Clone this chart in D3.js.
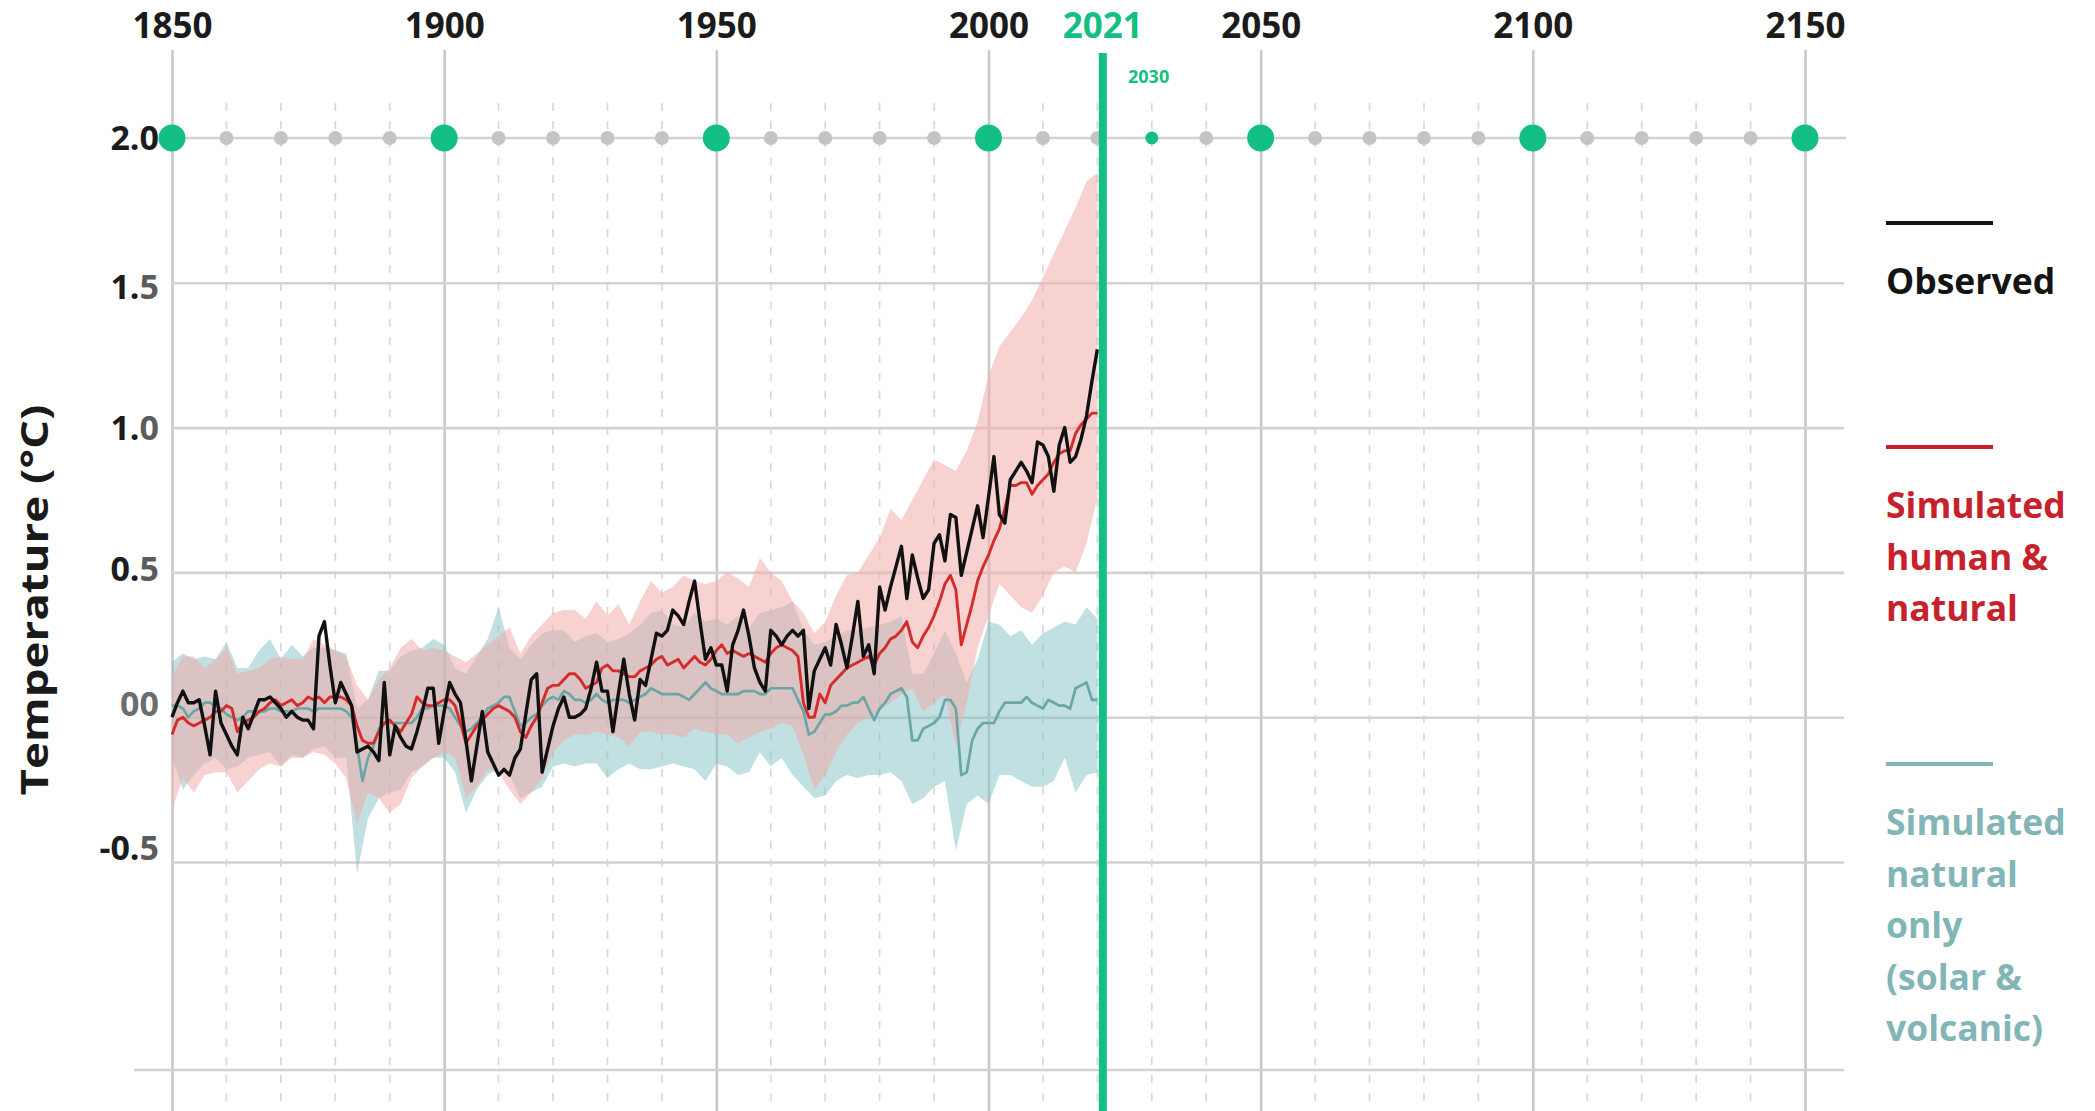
<!DOCTYPE html>
<html>
<head>
<meta charset="utf-8">
<script src="https://cdn.jsdelivr.net/npm/d3@7"></script>
<style>
  html, body { margin: 0; padding: 0; background: #ffffff; }
  svg { display: block; }
  text { font-family: "Open Sans", "Noto Sans", sans-serif; font-weight: 700; }
</style>
</head>
<body>
<script>
// Global surface temperature change relative to 1850–1900 (°C), annual values from 1850
const FIRST_YEAR = 1850;

const observed = [
  0.00, 0.05, 0.09, 0.05, 0.05, 0.06, -0.03, -0.13, 0.09, -0.02,
  -0.06, -0.10, -0.13, 0.00, -0.04, 0.01, 0.06, 0.06, 0.07, 0.05,
  0.03, 0.00, 0.02, 0.00, -0.01, -0.01, -0.04, 0.28, 0.33, 0.18,
  0.05, 0.12, 0.08, 0.04, -0.12, -0.11, -0.10, -0.12, -0.15, 0.12,
  -0.13, -0.03, -0.07, -0.10, -0.11, -0.05, 0.02, 0.10, 0.10, -0.09,
  0.02, 0.12, 0.08, 0.05, -0.08, -0.22, -0.10, 0.02, -0.12, -0.16,
  -0.20, -0.18, -0.20, -0.14, -0.11, 0.01, 0.13, 0.15, -0.19, -0.11,
  -0.03, 0.03, 0.07, 0.00, 0.00, 0.01, 0.03, 0.10, 0.19, 0.09,
  0.09, -0.05, 0.08, 0.20, 0.08, -0.01, 0.13, 0.11, 0.20, 0.29,
  0.28, 0.30, 0.37, 0.35, 0.32, 0.40, 0.47, 0.33, 0.20, 0.24,
  0.18, 0.18, 0.09, 0.25, 0.30, 0.37, 0.28, 0.17, 0.12, 0.09,
  0.30, 0.28, 0.25, 0.28, 0.30, 0.28, 0.30, 0.03, 0.16, 0.20,
  0.24, 0.18, 0.32, 0.25, 0.17, 0.28, 0.40, 0.21, 0.25, 0.15,
  0.45, 0.37, 0.45, 0.52, 0.59, 0.41, 0.56, 0.48, 0.41, 0.44,
  0.60, 0.63, 0.54, 0.70, 0.69, 0.49, 0.57, 0.65, 0.73, 0.62,
  0.76, 0.90, 0.70, 0.67, 0.82, 0.85, 0.88, 0.85, 0.81, 0.95,
  0.94, 0.90, 0.78, 0.94, 1.00, 0.88, 0.90, 0.96, 1.04, 1.16,
  1.27
];

const simHumanNatural = [
  -0.06, -0.01, 0.00, -0.02, -0.03, -0.02, -0.01, 0.00, 0.02, 0.02,
  0.04, 0.03, -0.05, -0.02, -0.01, 0.00, 0.02, 0.03, 0.05, 0.06,
  0.04, 0.05, 0.06, 0.04, 0.05, 0.07, 0.06, 0.07, 0.05, 0.07,
  0.07, 0.07, 0.06, 0.04, -0.03, -0.08, -0.09, -0.09, -0.05, -0.02,
  -0.01, -0.03, -0.05, -0.02, 0.01, 0.07, 0.05, 0.04, 0.04, 0.05,
  0.06, 0.06, 0.04, -0.02, -0.09, -0.06, -0.03, -0.01, 0.01, 0.03,
  0.04, 0.03, 0.02, 0.00, -0.05, -0.07, -0.03, 0.00, 0.05, 0.10,
  0.11, 0.11, 0.13, 0.15, 0.15, 0.13, 0.10, 0.11, 0.12, 0.17,
  0.18, 0.16, 0.16, 0.15, 0.14, 0.14, 0.16, 0.17, 0.18, 0.20,
  0.21, 0.18, 0.19, 0.20, 0.17, 0.19, 0.21, 0.19, 0.18, 0.20,
  0.23, 0.25, 0.22, 0.23, 0.22, 0.21, 0.22, 0.21, 0.20, 0.19,
  0.22, 0.24, 0.25, 0.24, 0.23, 0.21, 0.05, 0.00, 0.00, 0.08,
  0.05, 0.11, 0.13, 0.15, 0.17, 0.18, 0.19, 0.20, 0.21, 0.18,
  0.22, 0.24, 0.27, 0.28, 0.30, 0.33, 0.26, 0.24, 0.28, 0.31,
  0.35, 0.40, 0.46, 0.49, 0.44, 0.25, 0.32, 0.39, 0.47, 0.52,
  0.56, 0.61, 0.65, 0.72, 0.80, 0.80, 0.81, 0.81, 0.77, 0.80,
  0.82, 0.84, 0.88, 0.91, 0.92, 0.92, 0.98, 1.01, 1.03, 1.05,
  1.05
];

const simNaturalOnly = [
  0.04, 0.04, 0.03, 0.00, 0.02, 0.03, 0.05, 0.05, 0.04, 0.03,
  0.01, 0.00, -0.01, 0.00, 0.02, 0.02, 0.02, 0.02, 0.03, 0.03,
  0.02, 0.02, 0.02, 0.03, 0.03, 0.03, 0.02, 0.03, 0.03, 0.03,
  0.03, 0.03, 0.02, 0.00, -0.10, -0.22, -0.14, -0.10, -0.04, -0.02,
  -0.02, -0.02, -0.02, -0.02, -0.02, 0.00, 0.03, 0.03, 0.04, 0.04,
  0.04, 0.03, 0.00, -0.03, -0.05, -0.04, -0.02, 0.00, 0.03, 0.04,
  0.05, 0.07, 0.07, 0.02, -0.03, -0.02, 0.00, 0.01, 0.04, 0.06,
  0.07, 0.06, 0.09, 0.08, 0.06, 0.06, 0.05, 0.06, 0.08, 0.06,
  0.05, 0.06, 0.06, 0.06, 0.05, 0.06, 0.07, 0.08, 0.10, 0.09,
  0.08, 0.08, 0.08, 0.08, 0.07, 0.06, 0.08, 0.10, 0.12, 0.10,
  0.09, 0.08, 0.08, 0.08, 0.08, 0.09, 0.09, 0.09, 0.08, 0.08,
  0.10, 0.10, 0.10, 0.10, 0.10, 0.06, 0.02, -0.06, -0.05, -0.02,
  0.01, 0.01, 0.02, 0.04, 0.04, 0.05, 0.05, 0.07, 0.03, -0.01,
  0.03, 0.05, 0.08, 0.09, 0.10, 0.07, -0.08, -0.08, -0.04, -0.03,
  -0.02, 0.00, 0.06, 0.06, 0.03, -0.20, -0.19, -0.08, -0.04, -0.02,
  -0.02, -0.02, 0.02, 0.05, 0.05, 0.05, 0.05, 0.07, 0.05, 0.04,
  0.03, 0.06, 0.05, 0.04, 0.04, 0.03, 0.10, 0.11, 0.12, 0.06,
  0.06
];

// Model ranges, every second year from 1850
const BAND_STEP = 2;

const humanNaturalHigh = [
  0.14, 0.21, 0.21, 0.17, 0.20, 0.24, 0.15, 0.16, 0.17, 0.20,
  0.21, 0.20, 0.20, 0.27, 0.25, 0.23, 0.21, 0.11, 0.06, 0.13,
  0.17, 0.24, 0.27, 0.23, 0.24, 0.23, 0.21, 0.19, 0.22, 0.25,
  0.28, 0.31, 0.22, 0.28, 0.32, 0.36, 0.37, 0.37, 0.34, 0.40,
  0.35, 0.39, 0.32, 0.40, 0.47, 0.43, 0.45, 0.49, 0.47, 0.46,
  0.47, 0.50, 0.48, 0.45, 0.55, 0.50, 0.47, 0.40, 0.36, 0.29,
  0.33, 0.42, 0.49, 0.50, 0.56, 0.62, 0.72, 0.68, 0.75, 0.82,
  0.89, 0.87, 0.85, 0.92, 1.02, 1.18, 1.28, 1.33, 1.38, 1.44,
  1.52, 1.60, 1.68, 1.76, 1.85, 1.88
];

const humanNaturalLow = [
  -0.32, -0.21, -0.26, -0.20, -0.19, -0.19, -0.26, -0.22, -0.18, -0.16,
  -0.17, -0.14, -0.14, -0.12, -0.13, -0.16, -0.21, -0.37, -0.26, -0.28,
  -0.33, -0.30, -0.21, -0.17, -0.14, -0.12, -0.14, -0.28, -0.24, -0.18,
  -0.19, -0.25, -0.30, -0.26, -0.21, -0.12, -0.08, -0.06, -0.06, -0.05,
  -0.06, -0.07, -0.10, -0.05, -0.05, -0.06, -0.06, -0.07, -0.04, -0.05,
  -0.06, -0.06, -0.09, -0.07, -0.05, -0.04, -0.02, -0.03, -0.13, -0.25,
  -0.20, -0.12, -0.06, -0.02, 0.00, 0.02, 0.05, 0.08, 0.10, 0.02,
  0.05, 0.08, -0.10, 0.05, 0.24, 0.35, 0.46, 0.42, 0.38, 0.36,
  0.42, 0.50, 0.52, 0.50, 0.60, 0.76
];

const naturalOnlyHigh = [
  0.19, 0.22, 0.20, 0.21, 0.20, 0.26, 0.17, 0.17, 0.23, 0.27,
  0.20, 0.25, 0.21, 0.24, 0.24, 0.23, 0.22, 0.03, 0.06, 0.16,
  0.16, 0.21, 0.23, 0.24, 0.27, 0.25, 0.17, 0.15, 0.21, 0.27,
  0.38, 0.24, 0.20, 0.25, 0.29, 0.30, 0.30, 0.26, 0.28, 0.29,
  0.26, 0.27, 0.29, 0.32, 0.36, 0.37, 0.32, 0.31, 0.36, 0.33,
  0.34, 0.32, 0.35, 0.31, 0.36, 0.37, 0.38, 0.40, 0.30, 0.25,
  0.26, 0.28, 0.30, 0.30, 0.31, 0.32, 0.33, 0.35, 0.15, 0.15,
  0.22, 0.30, 0.22, 0.12, 0.20, 0.33, 0.32, 0.28, 0.30, 0.25,
  0.29, 0.31, 0.33, 0.32, 0.38, 0.34
];

const naturalOnlyLow = [
  -0.14, -0.25, -0.20, -0.16, -0.14, -0.18, -0.17, -0.14, -0.13, -0.12,
  -0.17, -0.13, -0.14, -0.11, -0.10, -0.14, -0.14, -0.54, -0.35, -0.28,
  -0.26, -0.25, -0.19, -0.17, -0.14, -0.14, -0.19, -0.33, -0.25, -0.20,
  -0.18, -0.20, -0.28, -0.26, -0.24, -0.17, -0.16, -0.17, -0.16, -0.16,
  -0.21, -0.18, -0.16, -0.18, -0.18, -0.17, -0.16, -0.17, -0.18, -0.22,
  -0.16, -0.17, -0.20, -0.19, -0.12, -0.17, -0.14, -0.20, -0.24, -0.28,
  -0.27, -0.22, -0.20, -0.21, -0.20, -0.20, -0.19, -0.22, -0.30, -0.28,
  -0.24, -0.22, -0.46, -0.30, -0.27, -0.30, -0.20, -0.20, -0.22, -0.24,
  -0.24, -0.22, -0.14, -0.26, -0.20, -0.19
];

// Axis ticks and markers
const yearLabels = [1850, 1900, 1950, 2000, 2050, 2100, 2150];
const tempTicks = [2.0, 1.5, 1.0, 0.5, 0.0, -0.5];
const tempTickLabels = ["2.0", "1.5", "1.0", "0.5", "00", "-0.5"];
const CURRENT_YEAR = 2021;
const TARGET_YEAR = 2030;
const MILESTONE_LEVEL = 2.0;

const legendItems = [
  { lines: ["Observed"], color: "#141414" },
  { lines: ["Simulated", "human &", "natural"], color: "#c7222b" },
  { lines: ["Simulated", "natural", "only", "(solar &", "volcanic)"], color: "#82b6b6" }
];

// ---------------------------------------------------------------------------
const W = 2095, H = 1111;
const GREEN = "#13bf83";
const GRID = "#d2d2d2";

const svg = d3.select("body").append("svg")
  .attr("width", W).attr("height", H)
  .attr("viewBox", `0 0 ${W} ${H}`);

svg.append("rect").attr("width", W).attr("height", H).attr("fill", "#ffffff");

const x = d3.scaleLinear().domain([1850, 2150]).range([172, 1805]);
const y = d3.scaleLinear().domain([-0.5, 2.0]).range([862, 138]);

const gridRight = 1844;
const baselineY = 1070;

const decades = d3.range(1850, 2151, 10);
const minorDecades = decades.filter(d => d % 50 !== 0);

// dashed decade guides
svg.append("g").selectAll("line").data(minorDecades).join("line")
  .attr("x1", d => x(d)).attr("x2", d => x(d))
  .attr("y1", 103).attr("y2", H)
  .attr("stroke", "#d9d9d9").attr("stroke-width", 1.7)
  .attr("stroke-dasharray", "8 10");

// half-century guides with year labels on top
const topAxis = d3.axisTop(x)
  .tickValues(yearLabels)
  .tickSize(-(H - 50))
  .tickPadding(12)
  .tickFormat(d3.format("d"));

const gTop = svg.append("g").attr("transform", "translate(0,50)").call(topAxis);
gTop.select(".domain").remove();
gTop.selectAll(".tick line").attr("stroke", "#c9c9c9").attr("stroke-width", 2.6);
gTop.selectAll(".tick text")
  .attr("fill", "#1b1b1b")
  .attr("font-size", 35)
  .attr("font-weight", 700)
  .attr("font-family", "'Open Sans', sans-serif");

// horizontal temperature gridlines
const leftAxis = d3.axisLeft(y)
  .tickValues(tempTicks.filter(t => t !== MILESTONE_LEVEL))
  .tickSize(-(gridRight - x(1850)))
  .tickFormat("");
const gLeft = svg.append("g").attr("transform", `translate(${x(1850)},0)`).call(leftAxis);
gLeft.select(".domain").remove();
gLeft.selectAll(".tick line").attr("stroke", GRID).attr("stroke-width", 2.6);

// baseline
svg.append("line")
  .attr("x1", 134).attr("x2", gridRight)
  .attr("y1", baselineY).attr("y2", baselineY)
  .attr("stroke", GRID).attr("stroke-width", 2.6);

// model ranges
const bandData = (hi, lo) => hi.map((h, i) => ({ year: FIRST_YEAR + i * BAND_STEP, hi: h, lo: lo[i] }));
const area = d3.area()
  .x(d => x(d.year))
  .y0(d => y(d.lo))
  .y1(d => y(d.hi));

svg.append("path")
  .datum(bandData(naturalOnlyHigh, naturalOnlyLow))
  .attr("d", area)
  .attr("fill", "rgb(124,190,193)")
  .attr("fill-opacity", 0.48);

svg.append("path")
  .datum(bandData(humanNaturalHigh, humanNaturalLow))
  .attr("d", area)
  .attr("fill", "rgb(242,172,172)")
  .attr("fill-opacity", 0.55);

// annual series
const series = arr => arr.map((v, i) => ({ year: FIRST_YEAR + i, v }));
const line = d3.line().x(d => x(d.year)).y(d => y(d.v));

svg.append("path").datum(series(simNaturalOnly)).attr("d", line)
  .attr("fill", "none").attr("stroke", "#6aa6a6").attr("stroke-width", 2.7)
  .attr("stroke-linejoin", "round");
svg.append("path").datum(series(simHumanNatural)).attr("d", line)
  .attr("fill", "none").attr("stroke", "#d42b2b").attr("stroke-width", 2.9)
  .attr("stroke-linejoin", "round");
svg.append("path").datum(series(observed)).attr("d", line)
  .attr("fill", "none").attr("stroke", "#111111").attr("stroke-width", 3.4)
  .attr("stroke-linejoin", "round");

// temperature tick labels
const labelNudge = { "2.0": 0, "1.5": 4, "1.0": 0, "0.5": -3, "00": -13, "-0.5": -14 };
const yLabels = svg.append("g").selectAll("text")
  .data(tempTicks.map((t, i) => ({ t, label: tempTickLabels[i] })))
  .join("text")
  .attr("x", 159)
  .attr("y", d => y(d.t) + labelNudge[d.label] + 12)
  .attr("text-anchor", "end")
  .attr("font-size", 34);
yLabels.each(function (d) {
  const chars = d.label.split("");
  const sel = d3.select(this);
  chars.forEach((c, i) => {
    let fill = "#1c1c1c";
    if (d.label === "00") fill = "#6c6c6c";
    else if (d.label !== "2.0" && i === chars.length - 1) fill = "#5c5c5c";
    sel.append("tspan").attr("fill", fill).text(c);
  });
});

// 2 °C milestone row with decade markers
svg.append("line")
  .attr("x1", x(1850)).attr("x2", gridRight + 2)
  .attr("y1", y(MILESTONE_LEVEL)).attr("y2", y(MILESTONE_LEVEL))
  .attr("stroke", GRID).attr("stroke-width", 2.6);

svg.append("g").selectAll("circle").data(decades).join("circle")
  .attr("cx", d => x(d))
  .attr("cy", y(MILESTONE_LEVEL))
  .attr("r", d => d % 50 === 0 ? 13.5 : (d === TARGET_YEAR ? 6.5 : 7))
  .attr("fill", d => (d % 50 === 0 || d === TARGET_YEAR) ? GREEN : "#c4c4c4");

// current year marker
svg.append("line")
  .attr("x1", x(CURRENT_YEAR)).attr("x2", x(CURRENT_YEAR))
  .attr("y1", 53).attr("y2", H)
  .attr("stroke", GREEN).attr("stroke-width", 8);

svg.append("text")
  .attr("x", x(CURRENT_YEAR)).attr("y", 38)
  .attr("text-anchor", "middle")
  .attr("font-size", 35).attr("fill", GREEN)
  .text(CURRENT_YEAR);

svg.append("text")
  .attr("x", 1128).attr("y", 83)
  .attr("font-size", 18).attr("fill", GREEN)
  .text(TARGET_YEAR);

// axis title
svg.append("text")
  .attr("transform", "translate(48,600) rotate(-90) scale(1.2,1)")
  .attr("text-anchor", "middle")
  .attr("font-size", 38)
  .attr("fill", "#1a1a1a")
  .text("Temperature (°C)");

// legend
const legendX = 1886;
const legendLineY = [223, 447, 764];
legendItems.forEach((item, i) => {
  const g = svg.append("g");
  g.append("line")
    .attr("x1", legendX).attr("x2", 1993)
    .attr("y1", legendLineY[i]).attr("y2", legendLineY[i])
    .attr("stroke", item.color).attr("stroke-width", 4);
  const t = g.append("text")
    .attr("x", legendX)
    .attr("y", legendLineY[i] + 71)
    .attr("font-size", 35.5)
    .attr("fill", item.color);
  item.lines.forEach((ln, j) => {
    t.append("tspan").attr("x", legendX).attr("dy", j === 0 ? 0 : 51.5).text(ln);
  });
});
</script>
</body>
</html>
